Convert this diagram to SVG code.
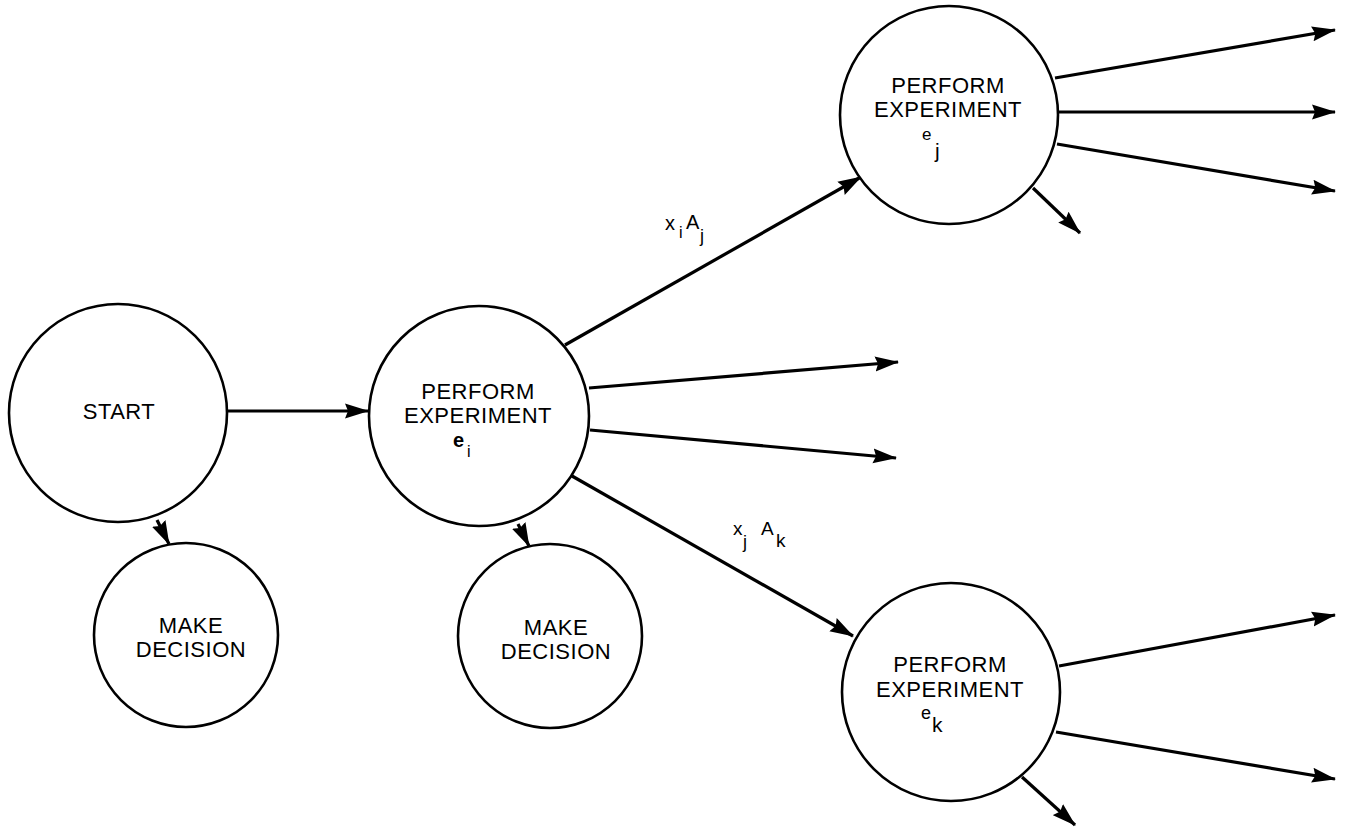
<svg xmlns="http://www.w3.org/2000/svg" width="1345" height="828" viewBox="0 0 1345 828">
<style>
.node{fill:#fff;stroke:#000;stroke-width:2.6}
.lbl{font-family:"Liberation Sans",Arial,sans-serif;font-size:22px;fill:#000;text-anchor:middle;letter-spacing:0.5px}
.sub{font-family:"Liberation Sans",Arial,sans-serif;fill:#000}
.edge{stroke:#000;stroke-width:3.2;fill:none;marker-end:url(#ah)}
</style>
<defs>
<marker id="ah" markerUnits="userSpaceOnUse" markerWidth="24" markerHeight="16" refX="23" refY="8" orient="auto">
<path d="M0,0.5 L24,8 L0,15.5 L3,8 z" fill="#000"/>
</marker>
</defs>
<rect width="1345" height="828" fill="#fff"/>
<g id="connectors">
<line class="edge" x1="228" y1="411" x2="368" y2="411"/>
<line class="edge" x1="157" y1="520" x2="169" y2="544"/>
<line class="edge" x1="518" y1="524" x2="529" y2="546"/>
<line class="edge" x1="565" y1="345" x2="861" y2="177"/>
<line class="edge" x1="589" y1="388" x2="898" y2="362"/>
<line class="edge" x1="590" y1="430" x2="896" y2="458"/>
<line class="edge" x1="572" y1="476" x2="853" y2="636"/>
<line class="edge" x1="1055" y1="78" x2="1335" y2="30"/>
<line class="edge" x1="1059" y1="112" x2="1335" y2="112"/>
<line class="edge" x1="1057" y1="144" x2="1335" y2="191"/>
<line class="edge" x1="1033" y1="188" x2="1080" y2="233"/>
<line class="edge" x1="1059" y1="666" x2="1335" y2="615"/>
<line class="edge" x1="1056" y1="732" x2="1335" y2="779"/>
<line class="edge" x1="1022" y1="777" x2="1075" y2="825"/>
</g>
<g id="edge-label-xiAj">
<text class="sub"><tspan x="665" y="230" font-size="20">x</tspan><tspan x="679" y="238" font-size="16">i</tspan><tspan x="686" y="229" font-size="20">A</tspan><tspan x="700" y="242" font-size="18">j</tspan></text>
</g>
<g id="edge-label-xjAk">
<text class="sub"><tspan x="733" y="535" font-size="19">x</tspan><tspan x="743" y="548" font-size="18">j</tspan><tspan x="761" y="535" font-size="19">A</tspan><tspan x="776" y="547" font-size="19">k</tspan></text>
</g>
<g id="start">
<circle class="node" cx="118" cy="413" r="109"/>
<text class="lbl" x="119" y="419">START</text>
</g>
<g id="experiment-ei">
<circle class="node" cx="479" cy="416" r="110"/>
<text class="lbl" x="478" y="399">PERFORM</text>
<text class="lbl" x="478" y="423">EXPERIMENT</text>
<text class="sub"><tspan x="453" y="447" font-size="20" font-weight="bold">e</tspan><tspan x="467" y="457" font-size="16">i</tspan></text>
</g>
<g id="decision-1">
<circle class="node" cx="186" cy="635" r="92"/>
<text class="lbl" x="191" y="633">MAKE</text>
<text class="lbl" x="191" y="657">DECISION</text>
</g>
<g id="decision-2">
<circle class="node" cx="550" cy="636" r="92"/>
<text class="lbl" x="556" y="635">MAKE</text>
<text class="lbl" x="556" y="659">DECISION</text>
</g>
<g id="experiment-ej">
<circle class="node" cx="949" cy="115" r="109"/>
<text class="lbl" x="948" y="93">PERFORM</text>
<text class="lbl" x="948" y="117">EXPERIMENT</text>
<text class="sub"><tspan x="922" y="140" font-size="17">e</tspan><tspan x="935" y="158" font-size="21">j</tspan></text>
</g>
<g id="experiment-ek">
<circle class="node" cx="951" cy="692" r="109"/>
<text class="lbl" x="950" y="672">PERFORM</text>
<text class="lbl" x="950" y="697">EXPERIMENT</text>
<text class="sub"><tspan x="921" y="719" font-size="18">e</tspan><tspan x="932" y="732" font-size="21">k</tspan></text>
</g>
</svg>
